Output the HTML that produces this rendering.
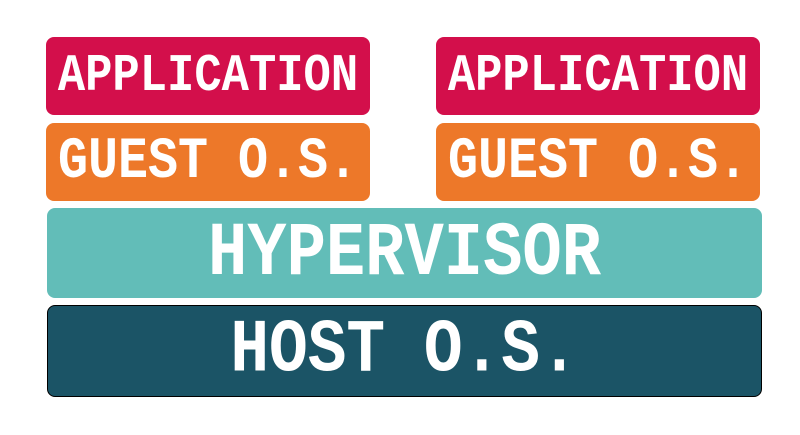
<!DOCTYPE html>
<html><head><style>
body{margin:0;width:800px;height:435px;background:#fff;position:relative;overflow:hidden;font-family:"Liberation Mono",monospace;font-weight:bold;color:#fff}
.b{position:absolute;display:flex;align-items:center;justify-content:center;border-radius:8px;box-sizing:border-box}
.b span{display:inline-block;transform:scaleY(1.16);white-space:pre}
.app{background:#d30f4b;font-size:45.5px;width:324px;height:78px;top:37px}
.gos{background:#ed7829;font-size:50px;width:324px;height:78px;top:123px}
.hyp{background:#62bdb8;font-size:65.5px;left:47px;width:715px;top:208px;height:90px}
.host{background:#1b5466;font-size:64.5px;left:47px;width:715px;top:305px;height:92px;border:1.5px solid #000}
</style></head><body>
<div class="b app" style="left:46px"><span>APPLICATION</span></div>
<div class="b app" style="left:436px"><span>APPLICATION</span></div>
<div class="b gos" style="left:46px"><span>GUEST O.S.</span></div>
<div class="b gos" style="left:436px"><span>GUEST O.S.</span></div>
<div class="b hyp"><span>HYPERVISOR</span></div>
<div class="b host"><span>HOST O.S.</span></div>
</body></html>
